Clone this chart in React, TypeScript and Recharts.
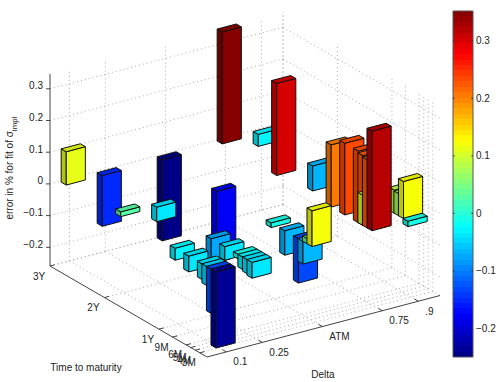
import { ReferenceArea, ReferenceLine, Scatter, ScatterChart, XAxis, YAxis } from 'recharts';

const WIDTH = 498;
const HEIGHT = 382;
const FONT = '"Liberation Sans", Arial, sans-serif';

const maturityLabels = ['3Y', '2Y', '1Y', '9M', '6M', '5M', '4M', '3M'];
const maturityYears = [3, 2, 1, 0.75, 0.5, 0.4167, 0.3333, 0.25];
const deltaLabels = ['0.1', '0.25', 'ATM', '0.75', '.9'];
const deltaValues = [0.1, 0.25, 0.5, 0.75, 0.9];
const errorTicks = [-0.2, -0.1, 0, 0.1, 0.2, 0.3];

// error per maturity (3Y -> 3M), null where nothing shows
const errDelta10 = [0.105, 0.015, -0.038, -0.05, -0.05, -0.06, -0.14, -0.24];
const errDelta25 = [-0.16, -0.046, -0.08, -0.043, -0.015, -0.04, -0.045, -0.05];
const errDeltaAtm = [-0.256, -0.19, -0.015, -0.077, -0.14, -0.072, 0.016, 0.113];
const errDelta75 = [0.353, 0.29, 0.196, 0.226, 0.226, 0.22, 0.215, 0.314];
const errDelta90 = [-0.038, -0.079, null, null, 0.073, 0.07, 0.117, -0.017];
const errors = [errDelta10, errDelta25, errDeltaAtm, errDelta75, errDelta90];

// second point at delta 0.75 / 5M, the short lime bar in front of the orange ones
const innerBars = [{ delta: 3, maturity: 5, value: 0.095 }];

const Z_MIN = -0.259;
const Z_MAX = 0.347;
const C_MIN = -0.25;
const C_MAX = 0.352;

// orthographic view of the box
const project = (u: number, s: number, z: number) => ({
  px: 50 + 157 * s + 233 * u,
  py: 266 + 91 * s - 61.5 * u - 317 * (z - Z_MIN),
});
const uOf = (delta: number) => delta * 1.03 - 0.02;
const sOf = (years: number) => (3 - years) * 0.347;

const clamp = (v: number) => Math.max(0, Math.min(1, v));
function jet(t: number, shade = 1) {
  const q = (Math.min(63, Math.floor(clamp(t) * 64)) + 0.5) / 64;
  const r = clamp(Math.min(4 * q - 1.5, -4 * q + 4.5));
  const g = clamp(Math.min(4 * q - 0.5, -4 * q + 3.5));
  const b = clamp(Math.min(4 * q + 0.5, -4 * q + 2.5));
  return `rgb(${Math.round(r * 255 * shade)},${Math.round(g * 255 * shade)},${Math.round(b * 255 * shade)})`;
}

function buildBar(deltaIdx: number, matIdx: number, value: number) {
  const u = uOf(deltaValues[deltaIdx]);
  const s = sOf(maturityYears[matIdx]) + 0.025;
  const du = 0.041;
  const ds = 0.016;
  const lo = Math.min(0, value);
  const hi = Math.max(0, value);
  const anchor = project(u, s, 0);
  const rel = (a: number, b: number, z: number) => {
    const p = project(a, b, z);
    return `${(p.px - anchor.px).toFixed(1)},${(p.py - anchor.py).toFixed(1)}`;
  };
  // bars read a touch warmer than their height on the colorbar
  const t = (value + 0.008 - C_MIN) / (C_MAX - C_MIN);
  return {
    ...anchor,
    depth: 91 * s - 61.5 * u,
    front: [rel(u - du, s + ds, lo), rel(u + du, s + ds, lo), rel(u + du, s + ds, hi), rel(u - du, s + ds, hi)].join(' '),
    side: [rel(u - du, s - ds, lo), rel(u - du, s + ds, lo), rel(u - du, s + ds, hi), rel(u - du, s - ds, hi)].join(' '),
    top: [rel(u - du, s - ds, hi), rel(u + du, s - ds, hi), rel(u + du, s + ds, hi), rel(u - du, s + ds, hi)].join(' '),
    frontFill: jet(t),
    sideFill: jet(t, 0.76),
    topFill: jet(t, 0.9),
  };
}

const barData: ReturnType<typeof buildBar>[] = [];
errors.forEach((row, d) => {
  row.forEach((value, m) => {
    if (value !== null) barData.push(buildBar(d, m, value));
  });
});
innerBars.forEach((b) => barData.push(buildBar(b.delta, b.maturity, b.value)));
barData.sort((a, b) => a.depth - b.depth);

function BarShape(props: any) {
  const { cx, cy, payload } = props;
  const edge = { stroke: '#111', strokeWidth: 1, strokeLinejoin: 'round' as const };
  return (
    <g transform={`translate(${cx},${cy})`}>
      <polygon points={payload.side} fill={payload.sideFill} {...edge} />
      <polygon points={payload.front} fill={payload.frontFill} {...edge} />
      <polygon points={payload.top} fill={payload.topFill} {...edge} />
    </g>
  );
}

function TextShape(props: any) {
  const { cx, cy, payload } = props;
  return (
    <text
      x={cx}
      y={cy}
      fontFamily={FONT}
      fontSize={10}
      fill="#222"
      textAnchor={payload.anchor || 'middle'}
      dominantBaseline="central"
    >
      {payload.text}
    </text>
  );
}

function TitleShape(props: any) {
  const { cx, cy } = props;
  return (
    <text
      transform={`translate(${cx},${cy}) rotate(-90)`}
      fontFamily={FONT}
      fontSize={10}
      fill="#222"
      textAnchor="middle"
    >
      error in % for fit of σ
      <tspan dy={4} fontSize={8}>
        impl
      </tspan>
    </text>
  );
}

// grid + axis segments, all from the tick lists
type Seg = { a: { px: number; py: number }; b: { px: number; py: number } };
const gridSegs: Seg[] = [];
const axisSegs: Seg[] = [];

const deltaU = deltaValues.map(uOf);
const matS = maturityYears.map(sOf);

errorTicks.forEach((z) => {
  gridSegs.push({ a: project(0, 0, z), b: project(1, 0, z) });
  gridSegs.push({ a: project(1, 0, z), b: project(1, 1, z) });
  axisSegs.push({ a: project(0, 0, z), b: { ...project(0, 0, z), px: project(0, 0, z).px - 4 } });
});
deltaU.forEach((u) => {
  gridSegs.push({ a: project(u, 0, Z_MIN), b: project(u, 1, Z_MIN) });
  gridSegs.push({ a: project(u, 0, Z_MIN), b: project(u, 0, Z_MAX) });
  axisSegs.push({ a: project(u, 1, Z_MIN), b: project(u, 0.975, Z_MIN) });
});
matS.forEach((s) => {
  gridSegs.push({ a: project(0, s, Z_MIN), b: project(1, s, Z_MIN) });
  gridSegs.push({ a: project(1, s, Z_MIN), b: project(1, s, Z_MAX) });
  axisSegs.push({ a: project(0, s, Z_MIN), b: project(0.02, s, Z_MIN) });
});
gridSegs.push({ a: project(1, 0, Z_MIN), b: project(1, 0, Z_MAX) });
gridSegs.push({ a: project(0, 0, Z_MIN), b: project(1, 0, Z_MIN) });
gridSegs.push({ a: project(1, 0, Z_MIN), b: project(1, 1, Z_MIN) });
axisSegs.push({ a: project(0, 0, Z_MIN), b: project(0, 0, Z_MAX) });
axisSegs.push({ a: project(0, 0, Z_MIN), b: project(0, 1, Z_MIN) });
axisSegs.push({ a: project(0, 1, Z_MIN), b: project(1, 1, Z_MIN) });

const labelData = [
  ...errorTicks.map((z) => {
    const p = project(0, 0, z);
    return { px: p.px - 7, py: p.py - 3, text: String(z).replace('-', '\u2212'), anchor: 'end' };
  }),
  ...maturityLabels.map((text, i) => {
    const p = project(0, matS[i], Z_MIN);
    return { px: p.px - 11, py: p.py + 10, text };
  }),
  ...deltaLabels.map((text, i) => {
    const p = project(deltaU[i], 1, Z_MIN);
    return { px: p.px + 7, py: p.py + 10, text, anchor: 'start' };
  }),
  { px: 86, py: 367, text: 'Time to maturity' },
  { px: 323, py: 374, text: 'Delta' },
];

const colorBands = Array.from({ length: 64 }, (_, i) => i);
const colorAnchor = [{ x: 0, y: 0 }];

const segLine = (seg: Seg, key: string, stroke: string, dash?: string) => (
  <ReferenceLine
    key={key}
    segment={[
      { x: seg.a.px, y: seg.a.py },
      { x: seg.b.px, y: seg.b.py },
    ]}
    stroke={stroke}
    strokeWidth={1}
    strokeDasharray={dash}
    ifOverflow="visible"
  />
);

// plain opaque band, ReferenceArea's default rectangle leaves it washed out
const bandShape = (color: string) => (p: any) =>
  <rect x={p.x} y={p.y} width={p.width} height={p.height} fill={color} shapeRendering="crispEdges" />;

export default function App() {
  const step = (C_MAX - C_MIN) / 64;
  return (
    <div style={{ position: 'absolute', left: 0, top: 0, width: WIDTH, height: HEIGHT }}>
      <ScatterChart width={WIDTH} height={HEIGHT} margin={{ top: 0, right: 0, bottom: 0, left: 0 }}>
        <XAxis type="number" dataKey="px" domain={[0, WIDTH]} hide />
        <YAxis type="number" dataKey="py" domain={[0, HEIGHT]} reversed hide />
        {gridSegs.map((seg, i) => segLine(seg, `g${i}`, '#aaa', '1 3'))}
        {axisSegs.map((seg, i) => segLine(seg, `a${i}`, '#444'))}
        <Scatter data={barData} shape={BarShape} isAnimationActive={false} />
        <Scatter data={labelData} shape={TextShape} isAnimationActive={false} />
        <Scatter data={[{ px: 12.5, py: 168 }]} shape={TitleShape} isAnimationActive={false} />
      </ScatterChart>
      <div style={{ position: 'absolute', left: 0, top: 0 }}>
        <ScatterChart width={WIDTH} height={HEIGHT} margin={{ top: 11, right: 0, bottom: 25, left: 453 }}>
          <XAxis type="number" dataKey="x" domain={[0, 1]} hide />
          <YAxis
            type="number"
            dataKey="y"
            orientation="right"
            width={25}
            domain={[C_MIN, C_MAX]}
            ticks={errorTicks}
            tickSize={0}
            tickMargin={3}
            axisLine={false}
            tickLine={false}
            tick={{ fontFamily: FONT, fontSize: 10, fill: '#222' }}
            tickFormatter={(v: number) => String(v).replace('-', '\u2212')}
          />
          {colorBands.map((i) => (
            <ReferenceArea
              key={i}
              x1={0}
              x2={1}
              y1={C_MIN + i * step}
              y2={C_MIN + (i + 1) * step}
              shape={bandShape(jet((i + 0.5) / 64))}
              ifOverflow="visible"
            />
          ))}
          <ReferenceArea x1={0} x2={1} y1={C_MIN} y2={C_MAX} fill="none" stroke="#555" ifOverflow="visible" />
          {errorTicks.map((t) => (
            <ReferenceLine key={`l${t}`} segment={[{ x: 0, y: t }, { x: 0.08, y: t }]} stroke="#333" ifOverflow="visible" />
          ))}
          {errorTicks.map((t) => (
            <ReferenceLine key={`r${t}`} segment={[{ x: 0.92, y: t }, { x: 1, y: t }]} stroke="#333" ifOverflow="visible" />
          ))}
          <Scatter data={colorAnchor} shape={() => null} isAnimationActive={false} />
        </ScatterChart>
      </div>
    </div>
  );
}
